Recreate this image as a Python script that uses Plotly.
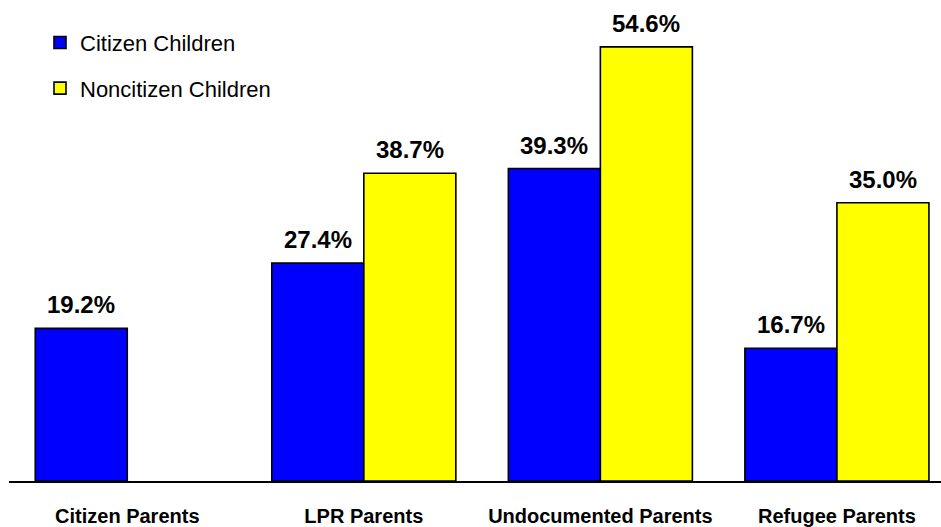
import plotly.graph_objects as go

categories = ["Citizen Parents", "LPR Parents", "Undocumented Parents", "Refugee Parents"]
citizen_children = [19.2, 27.4, 39.3, 16.7]
noncitizen_children = [None, 38.7, 54.6, 35.0]
series_names = ["Citizen Children", "Noncitizen Children"]
series_colors = ["#0000FF", "#FFFF00"]

FONT = "Arial, Liberation Sans, sans-serif"

fig = go.Figure()
for name, vals, col in zip(series_names, [citizen_children, noncitizen_children], series_colors):
    fig.add_trace(go.Bar(
        x=categories, y=vals, name=name, legendgroup=name,
        marker=dict(color=col, line=dict(color="black", width=1.6)),
        hoverinfo="skip",
    ))

annotations = []
for vals, shift in [(citizen_children, -46), (noncitizen_children, 46)]:
    for c, v in zip(categories, vals):
        if v is None:
            continue
        annotations.append(dict(
            x=c, y=v, xref="x", yref="y", text=f"<b>{v:.1f}%</b>",
            showarrow=False, xshift=shift, yanchor="bottom", yshift=8,
            font=dict(family=FONT, size=24, color="black"),
        ))

fig.update_layout(
    width=941, height=527,
    margin=dict(l=9, r=0, t=0, b=41),
    paper_bgcolor="white", plot_bgcolor="white",
    barmode="group", bargap=0.222, bargroupgap=0,
    showlegend=True,
    legend=dict(
        x=(40 - 9) / 932, y=1 - 22 / 486, xanchor="left", yanchor="top",
        font=dict(family=FONT, size=22, color="black"),
        bgcolor="rgba(0,0,0,0)", tracegroupgap=14,
    ),
    annotations=annotations,
    xaxis=dict(
        type="category", range=[-0.5, 3.44],
        showline=True, linecolor="black", linewidth=2,
        ticks="outside", ticklen=16, tickcolor="rgba(0,0,0,0)",
        tickfont=dict(family=FONT, size=20, color="black"),
        tickvals=categories, ticktext=[f"<b>{c}</b>" for c in categories],
        showgrid=False, zeroline=False, fixedrange=True,
    ),
    yaxis=dict(range=[0, 60.5], visible=False, showgrid=False, zeroline=False),
)

fig.write_html("out.html")
